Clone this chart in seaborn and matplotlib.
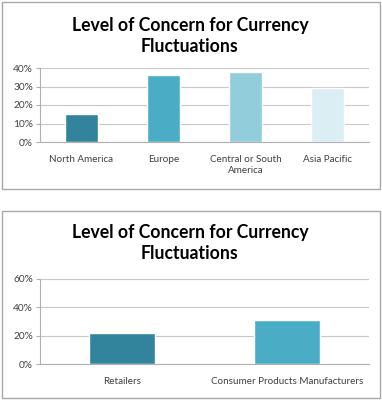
import numpy as np
import pandas as pd
import matplotlib
matplotlib.use('Agg')
import matplotlib.pyplot as plt
import seaborn as sns
from matplotlib.patches import Rectangle
from matplotlib.ticker import PercentFormatter

regions = ['North America', 'Europe', 'Central or South\nAmerica', 'Asia Pacific']
region_concern = [15, 36, 38, 29]
region_colors = ['#31849B', '#4BACC6', '#92CDDC', '#DAEEF3']

segments = ['Retailers', 'Consumer Products Manufacturers']
segment_concern = [22, 31]
segment_colors = ['#31849B', '#4BACC6']

title = 'Level of Concern for Currency\nFluctuations'

sns.set_style('white')
plt.rcParams['font.family'] = ['Lato', 'DejaVu Sans']

W, H = 382, 400
fig = plt.figure(figsize=(W / 100, H / 100), dpi=100)


def box(x0, y0, x1, y1):
    # pixel coords (top-left origin) -> figure rect
    fig.patches.append(Rectangle((x0 / W, 1 - y1 / H), (x1 - x0) / W, (y1 - y0) / H,
                                 transform=fig.transFigure, fill=False,
                                 edgecolor='#a8a8a8', linewidth=1.0))


def panel(ax, cats, vals, colors, ymax, step):
    df = pd.DataFrame({'cat': cats, 'val': vals})
    sns.barplot(data=df, x='cat', y='val', hue='cat', palette=colors,
                width=0.4, legend=False, ax=ax, saturation=1)
    ax.set_ylim(0, ymax)
    ax.set_yticks(np.arange(0, ymax + 1, step))
    ax.yaxis.set_major_formatter(PercentFormatter(decimals=0))
    ax.set_xlabel('')
    ax.set_ylabel('')
    ax.grid(axis='y', color='#c8c8c8', linewidth=0.8)
    ax.set_axisbelow(True)
    for s in ['top', 'right']:
        ax.spines[s].set_visible(False)
    for s in ['left', 'bottom']:
        ax.spines[s].set_color('#b0b0b0')
        ax.spines[s].set_linewidth(0.8)
    ax.tick_params(axis='y', left=True, length=3, color='#b0b0b0', labelsize=7.3,
                   labelcolor='#404040', pad=2)
    ax.tick_params(axis='x', bottom=False, labelsize=7.1, labelcolor='#404040', pad=6)


def px_axes(x0, y0, x1, y1):
    return fig.add_axes([x0 / W, 1 - y1 / H, (x1 - x0) / W, (y1 - y0) / H])


box(2, 2, 380, 189)
ax1 = px_axes(40, 68, 369, 142)
panel(ax1, regions, region_concern, region_colors, 40, 10)
fig.text(190 / W, 1 - 36 / H, title, ha='center', va='center', color='black',
         fontsize=12.7, fontweight='bold', linespacing=1.35)

box(2, 211, 380, 398)
ax2 = px_axes(40, 279, 369, 364)
panel(ax2, segments, segment_concern, segment_colors, 60, 20)
fig.text(190 / W, 1 - 243 / H, title, ha='center', va='center', color='black',
         fontsize=12.7, fontweight='bold', linespacing=1.35)

fig.savefig('out.png', dpi=100)
